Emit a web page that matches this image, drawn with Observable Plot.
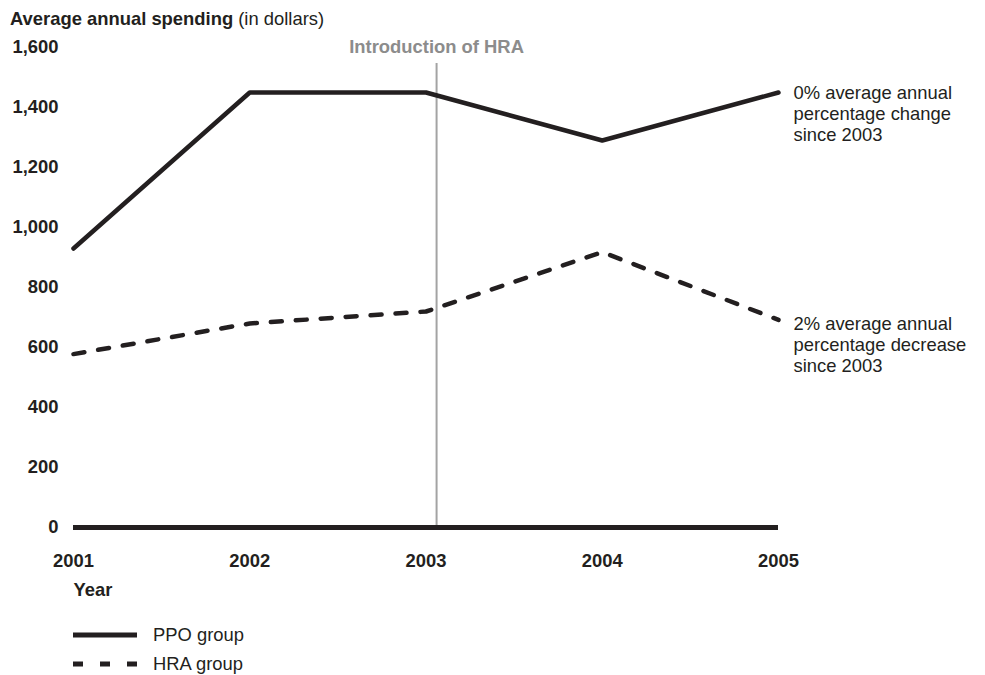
<!DOCTYPE html>
<html><head><meta charset="utf-8">
<script src="https://cdn.jsdelivr.net/npm/d3@7"></script>
<script src="https://cdn.jsdelivr.net/npm/@observablehq/plot@0.6"></script>
<style>
body{margin:0;background:#fff;font-family:"Liberation Sans",Arial,Helvetica,sans-serif;color:#231f20;}
#wrap{position:relative;width:985px;height:675px;overflow:hidden;}
#chart{position:absolute;left:0;top:0;}
#title{position:absolute;left:10px;top:8px;font-size:18.4px;white-space:nowrap;}
#legend{position:absolute;left:73px;top:620px;font-size:18.4px;}
.row{display:flex;align-items:center;height:29px;}
.row svg{margin-right:16px;display:block;}
</style></head><body>
<div id="wrap">
  <div id="chart"></div>
  <div id="title"><b>Average annual spending</b> (in dollars)</div>
  <div id="legend"></div>
</div>
<script>
const years = [2001, 2002, 2003, 2004, 2005];
const ppoValues = [930, 1450, 1450, 1290, 1450];
const hraValues = [578, 680, 720, 918, 692];
const seriesNames = ["PPO group", "HRA group"];
const yTicks = [0, 200, 400, 600, 800, 1000, 1200, 1400, 1600];
const introYear = 2003.06;
const introLabel = "Introduction of HRA";
const ppoNote = "0% average annual\npercentage change\nsince 2003";
const hraNote = "2% average annual\npercentage decrease\nsince 2003";
const xTitle = "Year";

const ink = "#231f20";
const ppo = years.map((y, i) => ({year: y, value: ppoValues[i]}));
const hra = years.map((y, i) => ({year: y, value: hraValues[i]}));
const dashes = "11,14";

const chart = Plot.plot({
  width: 985,
  height: 610,
  marginLeft: 73,
  marginRight: 207,
  marginTop: 47,
  marginBottom: 83,
  style: {fontFamily: '"Liberation Sans", Arial, Helvetica, sans-serif', fontSize: "18.4px", color: ink, background: "#fff"},
  x: {domain: [2001, 2005]},
  y: {domain: [0, 1600]},
  marks: [
    Plot.axisY({ticks: yTicks, tickFormat: d3.format(","), tickSize: 0, tickPadding: 15, fontWeight: "bold", label: null, fill: ink}),
    Plot.axisX({ticks: years, tickFormat: d3.format("d"), tickSize: 0, tickPadding: 26, fontWeight: "bold", label: null, fill: ink}),
    Plot.ruleX([introYear], {y1: 0, y2: 1547, stroke: "#a3a3a3", strokeWidth: 2}),
    Plot.text([introLabel], {x: introYear, y: 1600, text: d => d, fill: "#8c8c8c", fontWeight: "bold"}),
    Plot.ruleY([0], {stroke: ink, strokeWidth: 5}),
    Plot.line(ppo, {x: "year", y: "value", stroke: ink, strokeWidth: 4.5, strokeLinejoin: "miter"}),
    Plot.line(hra, {x: "year", y: "value", stroke: ink, strokeWidth: 4.5, strokeDasharray: dashes}),
    Plot.text([ppo[ppo.length - 1]], {x: "year", y: "value", text: () => ppoNote, textAnchor: "start", lineAnchor: "top", dx: 15, dy: -9, lineHeight: 1.15, fill: ink}),
    Plot.text([hra[hra.length - 1]], {x: "year", y: "value", text: () => hraNote, textAnchor: "start", lineAnchor: "top", dx: 15, dy: -5, lineHeight: 1.15, fill: ink}),
    Plot.text([xTitle], {x: years[0], y: 0, text: d => d, textAnchor: "start", dy: 63, fontWeight: "bold", fill: ink})
  ]
});
document.getElementById("chart").appendChild(chart);

const legend = document.getElementById("legend");
const styles = [{dash: null}, {dash: "10,17"}];
seriesNames.forEach((name, i) => {
  const row = document.createElement("div");
  row.className = "row";
  const dash = styles[i].dash ? ` stroke-dasharray="${styles[i].dash}"` : "";
  row.innerHTML = `<svg width="64" height="10"><line x1="0" x2="64" y1="5" y2="5" stroke="${ink}" stroke-width="5"${dash}/></svg><span>${name}</span>`;
  legend.appendChild(row);
});
</script>
</body></html>
